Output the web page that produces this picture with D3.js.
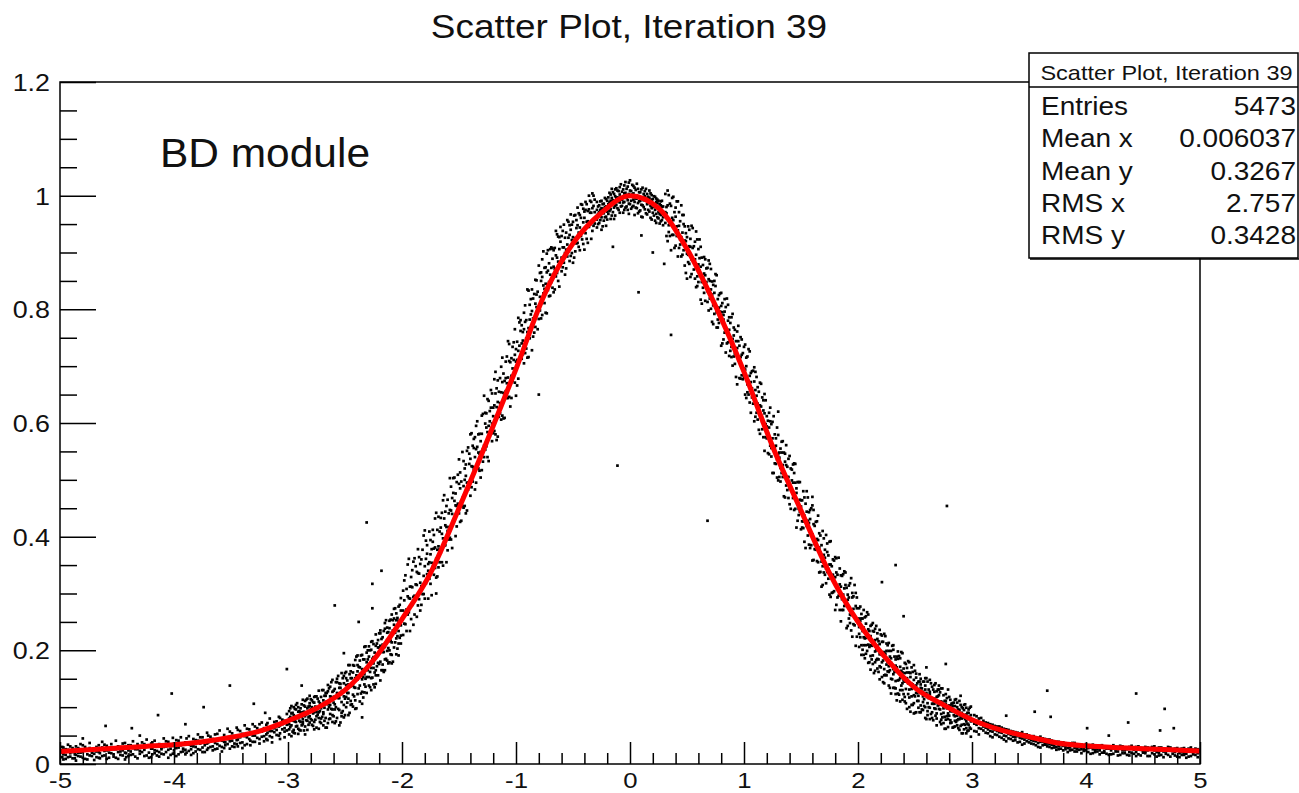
<!DOCTYPE html>
<html><head><meta charset="utf-8">
<script src="https://cdn.jsdelivr.net/npm/d3@7"></script>
<style>
html,body{margin:0;padding:0;background:#fff;}
svg{display:block;}
text{font-family:"Liberation Sans",Arial,Helvetica,sans-serif;fill:#111;}
</style></head>
<body>
<svg id="chart" width="1299" height="793"></svg>
<script>
// ---------------- DATA ----------------
const titleText = "Scatter Plot, Iteration 39";
const annotationText = "BD module";
const xTickValues = [-5,-4,-3,-2,-1,0,1,2,3,4,5];
const xTickLabels = ["-5","-4","-3","-2","-1","0","1","2","3","4","5"];
const yTickValues = [0,0.2,0.4,0.6,0.8,1,1.2];
const yTickLabels = ["0","0.2","0.4","0.6","0.8","1","1.2"];
const statsLabels = ["Entries","Mean x","Mean y","RMS x","RMS y"];
const statsValues = ["5473","0.006037","0.3267","2.757","0.3428"];

// fitted red curve
const curveX = [-5,-4.75,-4.5,-4.25,-4,-3.75,-3.5,-3.25,-3,-2.75,-2.5,-2.25,-2,-1.75,-1.5,-1.25,-1,-0.75,-0.5,-0.25,0,0.25,0.5,0.75,1,1.25,1.5,1.75,2,2.25,2.5,2.75,3,3.25,3.5,3.75,4,4.25,4.5,4.75,5];
const curveY = [0.022,0.025,0.028,0.031,0.034,0.039,0.047,0.058,0.076,0.098,0.130,0.183,0.255,0.336,0.450,0.570,0.695,0.826,0.916,0.970,1.000,0.978,0.906,0.806,0.690,0.559,0.446,0.336,0.250,0.185,0.134,0.104,0.078,0.060,0.048,0.037,0.032,0.029,0.027,0.025,0.023];

// scatter points: each row = [x, y1, y2, ...]
const tailLeft = [
[-4.98,.012,.021,.030],[-4.95,.016,.026,.009],[-4.91,.019,.013,.031],[-4.87,.024,.010,.017],
[-4.84,.014,.028,.020],[-4.80,.021,.011,.033],[-4.76,.017,.026,.008],[-4.72,.025,.014,.020],
[-4.68,.012,.030,.022],[-4.65,.019,.027,.010],[-4.61,.023,.015,.034],[-4.57,.011,.020,.028],
[-4.53,.026,.017,.013],[-4.49,.021,.031,.009],[-4.45,.015,.024,.036],[-4.42,.028,.012,.019],
[-4.38,.022,.033,.016],[-4.34,.013,.026,.030],[-4.30,.018,.029,.023],[-4.26,.025,.014,.035],
[-4.22,.020,.031,.011],[-4.19,.027,.017,.038],[-4.15,.023,.033,.015],[-4.11,.018,.029,.026],
[-4.07,.031,.021,.040],[-4.03,.016,.027,.034],[-4.00,.024,.036,.019],[-3.96,.029,.017,.041],
[-3.92,.022,.034,.027],[-3.89,.037,.020,.045],[-3.85,.026,.032,.016],[-3.81,.030,.042,.022],
[-3.77,.025,.036,.047],[-3.73,.021,.033,.040],[-3.70,.038,.028,.050],[-3.66,.024,.044,.031],
[-3.62,.035,.027,.053],[-3.58,.030,.041,.022],[-3.55,.046,.033,.038],[-3.51,.027,.040,.057],
[-3.47,.036,.049,.030],[-3.44,.043,.031,.060],[-3.40,.038,.053,.028],[-3.36,.047,.035,.062],
[-3.33,.041,.056,.033],[-3.29,.050,.039,.066],[-3.25,.044,.058,.036,.070],[-3.21,.049,.063,.040],
[-3.18,.055,.042,.072],[-3.14,.047,.066,.058,.038],[-3.10,.060,.051,.075],[-3.07,.054,.068,.044,.081],
[-3.03,.063,.057,.076,.047]
];
const tailLeft2 = [
[-4.97,.017,.029,.008],[-4.93,.025,.012,.034],[-4.89,.010,.021,.028],[-4.86,.031,.016,.006],
[-4.82,.020,.035,.013],[-4.78,.009,.024,.030],[-4.74,.028,.015,.037],[-4.70,.018,.007,.026],
[-4.66,.033,.021,.011],[-4.63,.014,.029,.039],[-4.59,.024,.009,.032],[-4.55,.035,.019,.027],
[-4.51,.011,.026,.041],[-4.47,.030,.016,.022],[-4.43,.020,.037,.008],[-4.40,.033,.024,.014],
[-4.36,.017,.040,.028],[-4.32,.026,.010,.035],[-4.28,.038,.021,.029],[-4.24,.015,.032,.043],
[-4.20,.027,.012,.036],[-4.17,.041,.024,.019],[-4.13,.021,.035,.013],[-4.09,.030,.045,.017],
[-4.05,.039,.025,.011],[-4.01,.018,.032,.046],[-3.98,.028,.042,.014],[-3.94,.047,.021,.033],
[-3.90,.025,.038,.017],[-3.87,.034,.049,.023],[-3.83,.019,.031,.044],[-3.79,.041,.026,.052],
[-3.75,.029,.047,.021],[-3.71,.036,.055,.025],[-3.68,.048,.030,.040],[-3.64,.026,.052,.037],
[-3.60,.043,.032,.059],[-3.56,.051,.028,.039],[-3.53,.035,.062,.044],[-3.49,.054,.031,.041],
[-3.45,.042,.064,.035],[-3.42,.058,.037,.047],[-3.38,.033,.049,.068],[-3.34,.061,.044,.052],
[-3.31,.039,.070,.050],[-3.27,.063,.046,.055],[-3.23,.048,.073,.057],[-3.19,.069,.052,.044],
[-3.16,.058,.080,.049],[-3.12,.074,.056,.063],[-3.08,.050,.083,.066],[-3.05,.078,.061,.070],
[-3.01,.059,.088,.069]
];
const midLeft = [
[-2.99,.070,.093,.052,.080,.061],[-2.97,.102,.077,.049,.089,.068],[-2.95,.086,.060,.100,.076,.055],
[-2.93,.096,.074,.084,.066,.104],[-2.91,.053,.092,.081,.062,.100],[-2.89,.074,.091,.059,.098,.086],
[-2.87,.070,.113,.079,.091,.074],[-2.85,.101,.052,.111,.084,.066],[-2.83,.098,.076,.115,.089,.060],
[-2.81,.107,.084,.073,.102,.120],[-2.79,.069,.095,.112,.077,.100],[-2.77,.061,.108,.091,.074,.118],
[-2.75,.084,.099,.064,.119,.092],[-2.73,.081,.110,.062,.129,.091],[-2.71,.080,.105,.118,.072,.098],
[-2.69,.130,.088,.068,.112,.091],[-2.67,.125,.081,.106,.064,.120],[-2.65,.096,.139,.072,.105,.128],
[-2.63,.088,.119,.080,.136,.104],[-2.61,.074,.127,.096,.148,.086],[-2.59,.119,.072,.132,.105,.096],
[-2.57,.150,.125,.081,.118,.144],[-2.55,.095,.134,.068,.142,.116],[-2.53,.090,.160,.109,.127,.084],
[-2.51,.142,.104,.155,.119,.082],[-2.49,.139,.162,.100,.118,.151],[-2.47,.086,.140,.115,.174,.125],
[-2.45,.111,.151,.104,.163,.137],[-2.43,.161,.101,.138,.174,.122],[-2.41,.151,.112,.183,.134,.097],
[-2.39,.174,.149,.123,.163,.191],[-2.37,.138,.110,.170,.156,.182],[-2.35,.127,.167,.149,.192,.106],
[-2.33,.184,.140,.158,.206,.126],[-2.31,.179,.153,.196,.125,.167],[-2.29,.207,.153,.138,.189,.174],
[-2.27,.130,.201,.169,.215,.151],[-2.25,.188,.140,.211,.169,.177],[-2.23,.208,.156,.228,.165,.141],
[-2.21,.205,.192,.218,.156,.178],[-2.19,.230,.147,.208,.180,.235],[-2.17,.197,.175,.223,.165,.210],
[-2.15,.238,.184,.206,.248,.165],[-2.13,.231,.199,.182,.240,.218],[-2.11,.216,.252,.200,.239,.179],
[-2.09,.263,.214,.177,.231,.192],[-2.07,.231,.205,.245,.273,.256],[-2.05,.193,.253,.239,.265,.221],
[-2.03,.252,.234,.277,.191,.212],[-2.01,.226,.244,.292,.212,.270]
];
const midLeftB = [
[-2.98,.083,.065,.098],[-2.96,.057,.077,.090],[-2.94,.097,.054,.075],[-2.92,.083,.107,.067],
[-2.90,.076,.093,.060],[-2.88,.105,.083,.068],[-2.86,.092,.059,.103],[-2.84,.077,.113,.087],
[-2.82,.101,.069,.082],[-2.80,.114,.096,.079],[-2.78,.089,.109,.067],[-2.76,.119,.078,.101],
[-2.74,.087,.097,.115],[-2.72,.107,.074,.093],[-2.70,.130,.083,.102],[-2.68,.076,.120,.099],
[-2.66,.125,.064,.110],[-2.64,.100,.133,.079],[-2.62,.118,.097,.144],[-2.60,.084,.129,.108],
[-2.58,.144,.075,.100],[-2.56,.116,.155,.097],[-2.54,.141,.073,.134],[-2.52,.093,.129,.151],
[-2.50,.160,.115,.086],[-2.48,.147,.108,.125],[-2.46,.090,.158,.174],[-2.44,.141,.105,.151],
[-2.42,.173,.135,.119],[-2.40,.156,.189,.098],[-2.38,.133,.171,.152],[-2.36,.191,.124,.159],
[-2.34,.153,.117,.184],[-2.32,.207,.150,.136],[-2.30,.184,.165,.200],[-2.28,.135,.200,.162],
[-2.26,.185,.152,.216],[-2.24,.161,.196,.135],[-2.22,.212,.190,.172],[-2.20,.205,.176,.230],
[-2.18,.165,.198,.220],[-2.16,.234,.162,.197],[-2.14,.212,.253,.185],[-2.12,.204,.232,.177],
[-2.10,.254,.217,.193],[-2.08,.235,.180,.253],[-2.06,.214,.274,.231],[-2.04,.257,.203,.225],
[-2.02,.280,.250,.222]
];
const flankLeft = [
[-1.99,.270,.227,.305],[-1.97,.267,.332,.246],[-1.95,.295,.263,.351],[-1.93,.312,.234,.291],
[-1.91,.341,.280,.311],[-1.89,.263,.362,.296],[-1.87,.338,.259,.315],[-1.85,.364,.290,.335],
[-1.83,.313,.280,.360],[-1.81,.331,.402,.299],[-1.79,.361,.318,.393],[-1.77,.352,.291,.340],
[-1.75,.394,.369,.317],[-1.73,.391,.347,.412],[-1.71,.345,.381,.432],[-1.69,.330,.377,.412],
[-1.67,.355,.409,.378],[-1.65,.442,.355,.405],[-1.63,.473,.384,.432],[-1.61,.417,.355,.454],
[-1.59,.417,.441,.395],[-1.57,.488,.446,.395],[-1.55,.429,.477,.503],[-1.53,.401,.455,.476],
[-1.51,.444,.509,.458],[-1.49,.426,.513,.485],[-1.47,.454,.549,.468],[-1.45,.520,.454,.500],
[-1.43,.551,.446,.495],[-1.41,.546,.528,.488],[-1.39,.582,.524,.487],[-1.37,.556,.519,.572],
[-1.35,.495,.554,.595],[-1.33,.520,.548,.580],[-1.31,.549,.504,.568],[-1.29,.616,.554,.532],
[-1.27,.599,.553,.618],[-1.25,.584,.642,.540],[-1.23,.603,.577,.621],[-1.21,.652,.568,.599],
[-1.19,.631,.677,.586],[-1.17,.570,.628,.661],[-1.15,.624,.655,.611],[-1.13,.699,.654,.606],
[-1.11,.653,.608,.687],[-1.09,.708,.656,.679],[-1.07,.644,.744,.680],[-1.05,.707,.629,.671],
[-1.03,.734,.696,.674],[-1.01,.765,.671,.720],[-0.99,.711,.743,.666],[-0.97,.777,.713,.736],
[-0.95,.713,.772,.740],[-0.93,.765,.705,.794],[-0.91,.749,.781,.731],[-0.89,.833,.767,.716],
[-0.87,.791,.818,.761],[-0.85,.752,.819,.784],[-0.83,.852,.810,.769],[-0.81,.798,.831,.765],
[-0.79,.864,.822,.798],[-0.77,.857,.790,.888],[-0.75,.836,.873,.811],[-0.73,.865,.793,.898],
[-0.71,.848,.881,.823],[-0.69,.909,.873,.848],[-0.67,.830,.904,.875],[-0.65,.938,.895,.858],
[-0.63,.884,.928,.850],[-0.61,.919,.878,.945],[-0.59,.909,.938,.874],[-0.57,.899,.926,.861],
[-0.55,.957,.914,.893],[-0.53,.931,.885,.948],[-0.51,.922,.949,.899],[-0.49,.965,.921,.891],
[-0.47,.943,.957,.916],[-0.45,.969,.910,.935],[-0.43,.961,.985,.929],[-0.41,.915,.953,.977],
[-0.39,.975,.934,.989],[-0.37,.955,.973,.917],[-0.35,.991,.949,.970],[-0.33,.978,1.004,.938],
[-0.31,.971,.993,.951]
];
const flankLeft2 = [
[-1.98,.288,.247,.323],[-1.96,.272,.308,.234],[-1.94,.361,.292,.267],[-1.92,.329,.255,.312],
[-1.90,.294,.356,.245],[-1.88,.316,.348,.290],[-1.86,.279,.336,.378],[-1.84,.319,.270,.352],
[-1.82,.377,.312,.299],[-1.80,.348,.411,.291],[-1.78,.370,.334,.385],[-1.76,.326,.355,.409],
[-1.74,.378,.297,.354],[-1.72,.403,.333,.379],[-1.70,.361,.442,.328],[-1.68,.435,.383,.346],
[-1.66,.416,.372,.433],[-1.64,.397,.464,.349],[-1.62,.420,.444,.385],[-1.60,.465,.376,.410],
[-1.58,.447,.503,.398],[-1.56,.440,.380,.468],[-1.54,.504,.431,.463],[-1.52,.418,.496,.454],
[-1.50,.493,.441,.536],[-1.48,.462,.497,.428],[-1.46,.533,.489,.451],[-1.44,.527,.441,.507],
[-1.42,.495,.557,.483],[-1.40,.537,.580,.472],[-1.38,.523,.497,.560],[-1.36,.575,.483,.540],
[-1.34,.558,.603,.524],[-1.32,.516,.581,.546],[-1.30,.613,.517,.581],[-1.28,.560,.648,.540],
[-1.26,.617,.559,.592],[-1.24,.595,.639,.533],[-1.22,.627,.585,.658],[-1.20,.582,.627,.612],
[-1.18,.690,.580,.652],[-1.16,.637,.576,.675],[-1.14,.635,.679,.617],[-1.12,.672,.613,.715],
[-1.10,.674,.651,.609],[-1.08,.717,.670,.644],[-1.06,.709,.739,.646],[-1.04,.683,.644,.714],
[-1.02,.742,.711,.683],[-1.00,.730,.648,.708],[-0.98,.785,.727,.678],[-0.96,.762,.719,.781],
[-0.94,.721,.760,.745],[-0.92,.807,.723,.778],[-0.90,.760,.835,.715],[-0.88,.808,.782,.749],
[-0.86,.797,.728,.835],[-0.84,.784,.827,.759],[-0.82,.851,.804,.826],[-0.80,.783,.877,.801],
[-0.78,.850,.784,.865],[-0.76,.842,.828,.902],[-0.74,.794,.874,.845],[-0.72,.904,.834,.868],
[-0.70,.861,.906,.824],[-0.68,.889,.838,.907],[-0.66,.871,.908,.835],[-0.64,.932,.891,.864],
[-0.62,.906,.840,.927],[-0.60,.929,.891,.867],[-0.58,.909,.949,.882],[-0.56,.935,.872,.905],
[-0.54,.954,.926,.902],[-0.52,.894,.940,.967],[-0.50,.927,.882,.954],[-0.48,.966,.925,.902],
[-0.46,.948,.917,.979],[-0.44,.904,.966,.944],[-0.42,.984,.939,.923],[-0.40,.961,.905,.972],
[-0.38,.985,.954,.924],[-0.36,.945,.976,1.000],[-0.34,.970,.924,.989],[-0.32,1.000,.947,.982]
];
const peak = [
[-0.29,.975,.944,.989,.958],[-0.27,.952,.983,.971],[-0.25,.991,.962,.978,.940],[-0.23,.956,.986,.969],
[-0.21,.994,.963,.981,.947],[-0.19,.968,.997,.985],[-0.17,.959,1.002,.976,.991],[-0.15,.992,.971,1.006],
[-0.13,.965,.999,.982,1.011],[-0.11,.997,.978,1.009],[-0.09,.970,1.015,.988,1.002],[-0.07,.982,1.007,.993],
[-0.05,1.018,.989,.975,1.004],[-0.03,.996,1.012,.981],[-0.01,.986,1.023,1.003,.968],[0.01,1.008,.991,.977],
[0.03,.993,1.017,.982,1.004],[0.05,.979,1.010,.995],[0.07,1.012,.987,.969,.998],[0.09,.991,1.006,.974],
[0.11,.983,1.014,.997,.962],[0.13,.999,.976,1.008],[0.15,.985,1.003,.967,.994],[0.17,.972,.996,1.009],
[0.19,.993,.978,.958,1.001],[0.21,.980,.999,.965],[0.23,.989,.968,.995,.952],[0.25,.971,.991,.960],
[0.27,.983,.955,.990,.966],[0.29,.962,.981,.948]
];
const peak2 = [
[-0.28,.981,.950,.968],[-0.26,.957,.990,.975],[-0.24,.985,.946,.977],[-0.22,.962,.996,.980],
[-0.20,.991,.958,.972],[-0.18,.973,1.005,.988],[-0.16,.996,.965,1.012],[-0.14,.979,1.003,.959],
[-0.12,1.013,.984,.996],[-0.10,.975,1.008,.990],[-0.08,1.020,.997,.981],[-0.06,.988,1.011,.970],
[-0.04,1.005,.979,1.024],[-0.02,.992,1.016,.975],[0.00,1.009,.985,1.027],[0.02,.980,1.002,1.019],
[0.04,1.014,.989,.966],[0.06,.995,1.021,.978],[0.08,1.006,.972,.990],[0.10,.984,1.011,.963],
[0.12,1.003,.980,.992],[0.14,.969,.996,1.012],[0.16,.998,.975,.987],[0.18,.982,1.004,.961],
[0.20,.994,.970,.983],[0.22,.975,.998,.956],[0.24,.987,.962,.993],[0.26,.968,.985,.951],
[0.28,.980,.957,.991]
];
const flankRight = [
[0.31,.952,1.003,.971],[0.33,.920,.983,1.009],[0.35,.952,.986,.929],[0.37,.961,.996,.931],
[0.39,.943,.971,.908],[0.41,.990,.946,.929],[0.43,.971,.908,.947],[0.45,.983,.893,.927],
[0.47,.950,.904,.966],[0.49,.864,.934,.920],[0.51,.883,.946,.896],[0.53,.924,.857,.910],
[0.55,.943,.887,.908],[0.57,.854,.919,.888],[0.59,.858,.923,.841],[0.61,.890,.868,.923],
[0.63,.848,.891,.810],[0.65,.863,.892,.829],[0.67,.848,.872,.838],[0.69,.886,.798,.853],
[0.71,.835,.801,.871],[0.73,.807,.843,.774],[0.75,.841,.807,.862],[0.77,.782,.818,.768],
[0.79,.828,.796,.786],[0.81,.811,.740,.795],[0.83,.818,.759,.796],[0.85,.740,.819,.763],
[0.87,.718,.786,.764],[0.89,.734,.786,.716],[0.91,.754,.717,.768],[0.93,.727,.681,.744],
[0.95,.771,.710,.744],[0.97,.678,.716,.751],[0.99,.677,.695,.723],[1.01,.650,.738,.694],
[1.03,.668,.717,.654],[1.05,.683,.726,.636],[1.07,.661,.691,.645],[1.09,.698,.603,.673],
[1.11,.648,.618,.681],[1.13,.620,.655,.588],[1.15,.629,.669,.613],[1.17,.622,.575,.640],
[1.19,.598,.575,.640],[1.21,.547,.604,.582],[1.23,.627,.560,.603],[1.25,.512,.573,.602],
[1.27,.529,.556,.580],[1.29,.536,.592,.504],[1.31,.548,.539,.505],[1.33,.567,.512,.548],
[1.35,.471,.548,.514],[1.37,.561,.490,.526],[1.39,.468,.537,.505],[1.41,.486,.520,.449],
[1.43,.495,.527,.468],[1.45,.495,.449,.528],[1.47,.463,.428,.496],[1.49,.465,.444,.496],
[1.51,.416,.464,.427],[1.53,.469,.437,.391],[1.55,.444,.480,.419],[1.57,.443,.386,.424],
[1.59,.450,.385,.403],[1.61,.422,.359,.447],[1.63,.394,.377,.426],[1.65,.355,.394,.437],
[1.67,.338,.372,.402],[1.69,.348,.410,.315],[1.71,.377,.363,.333],[1.73,.388,.338,.373],
[1.75,.298,.351,.391],[1.77,.327,.348,.301],[1.79,.358,.327,.304],[1.81,.362,.280,.337],
[1.83,.308,.363,.296],[1.85,.332,.251,.312],[1.87,.334,.271,.298],[1.89,.315,.281,.337],
[1.91,.243,.298,.289],[1.93,.248,.318,.263],[1.95,.293,.224,.301],[1.97,.260,.315,.244],
[1.99,.274,.224,.293]
];
const flankRight2 = [
[0.32,.980,.929,.969],[0.34,.948,1.001,.936],[0.36,.982,.953,.904],[0.38,.998,.931,.957],
[0.40,.912,.963,.979],[0.42,.939,.893,.990],[0.44,.914,.955,.923],[0.46,.966,.896,.935],
[0.48,.877,.921,.946],[0.50,.927,.898,.854],[0.52,.940,.911,.880],[0.54,.888,.947,.862],
[0.56,.911,.870,.887],[0.58,.937,.839,.896],[0.60,.848,.906,.879],[0.62,.875,.817,.910],
[0.64,.855,.878,.838],[0.66,.815,.888,.860],[0.68,.873,.832,.813],[0.70,.880,.819,.850],
[0.72,.778,.849,.826],[0.74,.829,.792,.850],[0.76,.795,.860,.768],[0.78,.825,.803,.776],
[0.80,.736,.806,.829],[0.82,.782,.747,.790],[0.84,.804,.763,.724],[0.86,.780,.808,.742],
[0.88,.727,.750,.776],[0.90,.792,.701,.748],[0.92,.722,.764,.704],[0.94,.732,.668,.761],
[0.96,.736,.708,.679],[0.98,.684,.747,.720],[1.00,.734,.680,.696],[1.02,.644,.700,.715],
[1.04,.674,.650,.730],[1.06,.688,.618,.672],[1.08,.651,.692,.634],[1.10,.690,.658,.611],
[1.12,.606,.663,.634],[1.14,.631,.581,.671],[1.16,.645,.602,.589],[1.18,.617,.651,.551],
[1.20,.573,.612,.594],[1.22,.618,.545,.592],[1.24,.556,.598,.541],[1.26,.612,.559,.512],
[1.28,.560,.528,.573],[1.30,.499,.579,.545],[1.32,.555,.521,.497],[1.34,.526,.568,.505],
[1.36,.469,.532,.546],[1.38,.523,.482,.505],[1.40,.542,.485,.457],[1.42,.481,.518,.499],
[1.44,.512,.447,.529],[1.46,.477,.416,.485],[1.48,.438,.496,.449],[1.50,.464,.413,.453],
[1.52,.427,.480,.415],[1.54,.458,.429,.380],[1.56,.469,.402,.428],[1.58,.380,.431,.447],
[1.60,.404,.358,.455],[1.62,.378,.419,.387],[1.64,.427,.357,.396],[1.66,.337,.381,.406],
[1.68,.385,.356,.312],[1.70,.397,.368,.337],[1.72,.344,.403,.318],[1.74,.367,.326,.343],
[1.76,.392,.294,.351],[1.78,.302,.360,.333],[1.80,.329,.271,.364],[1.82,.310,.333,.293],
[1.84,.271,.344,.316],[1.86,.331,.290,.271],[1.88,.339,.278,.309],[1.90,.239,.310,.287],
[1.92,.293,.256,.314],[1.94,.262,.327,.235],[1.96,.295,.273,.246],[1.98,.208,.278,.301]
];
const midRight = [
[2.01,.229,.256,.206,.274,.241],[2.03,.209,.256,.240,.192,.264],[2.05,.240,.209,.271,.223,.192],
[2.07,.247,.222,.194,.260,.209],[2.09,.226,.178,.237,.210,.263],[2.11,.190,.225,.166,.243,.209],
[2.13,.248,.176,.211,.234,.191],[2.15,.198,.238,.164,.218,.179],[2.17,.220,.185,.208,.168,.230],
[2.19,.193,.236,.172,.149,.211],[2.21,.215,.179,.153,.226,.192],[2.23,.156,.197,.167,.229,.142],
[2.25,.199,.175,.212,.156,.185],[2.27,.138,.199,.162,.213,.172],[2.29,.178,.124,.199,.150,.186],
[2.31,.134,.201,.158,.167,.209],[2.33,.184,.123,.173,.146,.133],[2.35,.198,.163,.124,.185,.147],
[2.37,.151,.171,.110,.186,.130],[2.39,.161,.130,.195,.142,.113],[2.41,.160,.110,.178,.145,.118],
[2.43,.161,.145,.097,.169,.151],[2.45,.117,.179,.131,.100,.161],[2.47,.132,.104,.170,.119,.141],
[2.49,.089,.148,.121,.174,.107],[2.51,.138,.091,.152,.125,.159],[2.53,.099,.127,.145,.111,.120],
[2.55,.150,.091,.134,.103,.140],[2.57,.109,.127,.095,.145,.119],[2.59,.151,.100,.081,.131,.138],
[2.61,.107,.086,.145,.118,.093],[2.63,.123,.099,.148,.079,.127],[2.65,.106,.136,.091,.114,.081],
[2.67,.127,.098,.139,.106,.115],[2.69,.068,.128,.089,.118,.080],[2.71,.131,.097,.104,.138,.121],
[2.73,.070,.110,.088,.078,.133],[2.75,.103,.072,.121,.090,.098],[2.77,.111,.062,.123,.078,.106],
[2.79,.079,.131,.089,.065,.085],[2.81,.102,.072,.113,.093,.077],[2.83,.102,.093,.064,.107,.096],
[2.85,.076,.113,.084,.066,.102],[2.87,.100,.085,.068,.108,.077],[2.89,.089,.060,.095,.079,.111],
[2.91,.069,.090,.054,.100,.080],[2.93,.104,.061,.082,.095,.070],[2.95,.075,.099,.054,.087,.063],
[2.97,.090,.069,.083,.059,.096],[2.99,.075,.101,.062,.048,.086]
];
const midRightB = [
[2.02,.252,.223,.277],[2.04,.201,.234,.256],[2.06,.258,.186,.221],[2.08,.226,.267,.199],
[2.10,.206,.234,.179],[2.12,.245,.208,.184],[2.14,.215,.160,.233],[2.16,.183,.243,.200],
[2.18,.216,.162,.184],[2.20,.228,.198,.170],[2.22,.182,.215,.144],[2.24,.225,.157,.194],
[2.26,.163,.180,.209],[2.28,.189,.134,.165],[2.30,.208,.149,.173],[2.32,.134,.189,.162],
[2.34,.189,.112,.170],[2.36,.148,.190,.122],[2.38,.164,.138,.197],[2.40,.123,.168,.147],
[2.42,.176,.107,.132],[2.44,.142,.181,.123],[2.46,.160,.092,.153],[2.48,.104,.140,.162],
[2.50,.164,.119,.090],[2.52,.142,.111,.125],[2.54,.091,.145,.158],[2.56,.125,.096,.133],
[2.58,.145,.114,.102],[2.60,.125,.151,.079],[2.62,.100,.131,.116],[2.64,.142,.088,.116],
[2.66,.106,.077,.131],[2.68,.142,.097,.085],[2.70,.119,.103,.131],[2.72,.074,.126,.096],
[2.74,.108,.082,.133],[2.76,.083,.111,.062],[2.78,.116,.098,.084],[2.80,.103,.085,.118],
[2.82,.073,.093,.106],[2.84,.108,.065,.086],[2.86,.090,.114,.074],[2.88,.079,.096,.063],
[2.90,.104,.082,.067],[2.92,.087,.054,.098],[2.94,.069,.105,.079],[2.96,.090,.058,.071],
[2.98,.099,.081,.064]
];
const tailRight = [
[3.02,.071,.058,.086],[3.06,.063,.080,.052],[3.10,.059,.076,.066],[3.14,.072,.054,.061],
[3.18,.057,.069,.047],[3.22,.051,.066,.058],[3.26,.064,.046,.055],[3.30,.049,.061,.040],
[3.34,.058,.044,.051],[3.38,.042,.056,.047],[3.42,.054,.039,.046],[3.46,.043,.052,.036],
[3.50,.038,.050,.044],[3.54,.049,.035,.041],[3.58,.037,.046,.030],[3.62,.045,.033,.039],
[3.66,.031,.043,.036],[3.70,.041,.028,.034],[3.74,.030,.039,.025],[3.78,.038,.027,.033],
[3.82,.026,.036,.030],[3.86,.035,.024,.029],[3.90,.028,.037,.022],[3.94,.034,.025,.030],
[3.98,.023,.031,.027],[4.02,.033,.021,.028],[4.06,.026,.034,.019],[4.10,.030,.022,.027],
[4.14,.020,.029,.033],[4.18,.027,.018,.031],[4.22,.031,.024,.017],[4.26,.022,.030,.026],
[4.30,.028,.016,.032],[4.34,.019,.027,.024],[4.38,.030,.021,.015],[4.42,.025,.029,.018],
[4.46,.017,.026,.031],[4.50,.028,.020,.023],[4.54,.014,.029,.024],[4.58,.026,.019,.030],
[4.62,.021,.027,.013],[4.66,.029,.016,.024],[4.70,.018,.026,.022],[4.74,.024,.013,.029],
[4.78,.015,.027,.021],[4.82,.026,.019,.012],[4.86,.020,.028,.016],[4.90,.013,.023,.027],
[4.94,.025,.017,.021],[4.98,.019,.026,.012]
];
const tailRight2 = [
[3.04,.069,.084,.057],[3.08,.081,.062,.070],[3.12,.055,.073,.064],[3.16,.070,.058,.049],
[3.20,.052,.067,.060],[3.24,.066,.048,.056],[3.28,.050,.062,.043],[3.32,.060,.045,.053],
[3.36,.041,.057,.048],[3.40,.055,.038,.049],[3.44,.045,.056,.034],[3.48,.052,.040,.046],
[3.52,.036,.048,.042],[3.56,.047,.033,.040],[3.60,.039,.048,.029],[3.64,.034,.044,.037],
[3.68,.043,.030,.035],[3.72,.029,.040,.033],[3.76,.039,.026,.031],[3.80,.032,.038,.024],
[3.84,.028,.036,.021],[3.88,.033,.025,.037],[3.92,.022,.031,.027],[3.96,.034,.026,.019],
[4.00,.024,.030,.035],[4.04,.029,.018,.033],[4.08,.021,.030,.025],[4.12,.032,.024,.017],
[4.16,.023,.031,.020],[4.20,.027,.016,.029],[4.24,.018,.028,.033],[4.28,.030,.022,.015],
[4.32,.024,.031,.019],[4.36,.016,.026,.029],[4.40,.027,.020,.032],[4.44,.021,.030,.014],
[4.48,.028,.015,.025],[4.52,.019,.030,.022],[4.56,.026,.014,.028],[4.60,.017,.024,.031],
[4.64,.029,.020,.015],[4.68,.022,.027,.012],[4.72,.016,.025,.030],[4.76,.026,.018,.023],
[4.80,.013,.024,.028],[4.84,.027,.016,.021],[4.88,.018,.025,.011],[4.92,.024,.014,.029],
[4.96,.016,.022,.027]
];
const outliers = [
[-2.31,.425],[-2.18,.34],[-2.26,.317],[-2.26,.274],[-2.59,.279],[-2.38,.25],[-2.51,.195],[-3.01,.167],
[-3.51,.138],[-4.02,.124],[-3.74,.10],[-4.14,.086],[-4.6,.067],[-4.37,.063],[-3.30,.106],[-2.88,.138],
[-2.35,.082],[-0.11,.525],[0.68,.428],[2.78,.454],[0.075,.83],[0.36,.755],[2.33,.35],[2.40,.26],
[2.21,.32],[2.77,.176],[3.66,.129],[4.44,.124],[4.69,.097],[4.37,.073],[4.77,.063],[4.65,.059],
[4.01,.063],[3.55,.092],[3.69,.083],[0.1,.93],[-0.15,.91],[0.3,.88],[0.2,.90],[-0.8,.65],
[-1.7,.30],[1.3,.62],[1.6,.47],[2.6,.17],[2.9,.12],[3.3,.085],[4.2,.05],[-4.8,.045],
[-4.3,.05],[-3.9,.07],[-3.2,.09]
];

// ---------------- DRAW ----------------
const svg = d3.select("#chart");
const W = 1299, H = 793;
const plot = {left: 60, right: 1200, top: 82, bottom: 764};
const SX = 1.12; // horizontal stretch of ROOT fonts in the picture

const x = d3.scaleLinear().domain([-5, 5]).range([plot.left, plot.right]);
const y = d3.scaleLinear().domain([0, 1.2]).range([plot.bottom, plot.top]);

svg.append("rect").attr("width", W).attr("height", H).attr("fill", "#fff");

// title
svg.append("g").attr("transform", `translate(629,38) scale(${SX},1)`)
  .append("text").attr("text-anchor", "middle").attr("font-size", 33).text(titleText);

// clip
svg.append("clipPath").attr("id", "clip").append("rect")
  .attr("x", plot.left).attr("y", plot.top)
  .attr("width", plot.right - plot.left).attr("height", plot.bottom - plot.top);

// points
const rows = [].concat(tailLeft, tailLeft2, midLeft, midLeftB, flankLeft, flankLeft2,
  peak, peak2, flankRight, flankRight2, midRight, midRightB, tailRight, tailRight2);
const pts = [];
rows.forEach(r => { for (let i = 1; i < r.length; i++) pts.push([r[0], r[i]]); });
outliers.forEach(p => pts.push(p));

const ps = 2.7;
const gPts = svg.append("g").attr("clip-path", "url(#clip)");
gPts.selectAll("rect").data(pts).join("rect")
  .attr("x", d => x(d[0]) - ps / 2).attr("y", d => y(d[1]) - ps / 2)
  .attr("width", ps).attr("height", ps).attr("fill", "#000");

// red curve
const curveData = curveX.map((v, i) => [v, curveY[i]]);
svg.append("path").datum(curveData)
  .attr("clip-path", "url(#clip)")
  .attr("fill", "none").attr("stroke", "#ff0000").attr("stroke-width", 5)
  .attr("stroke-linejoin", "round")
  .attr("d", d3.line().x(d => x(d[0])).y(d => y(d[1])).curve(d3.curveMonotoneX));

// axes: minor ticks
const xMinor = x.ticks(50).filter(v => Math.abs(v - Math.round(v)) > 1e-6);
svg.append("g").attr("transform", `translate(0,${plot.bottom})`)
  .call(d3.axisBottom(x).tickValues(xMinor).tickSize(-11).tickFormat(""))
  .call(g => g.select(".domain").remove())
  .selectAll("line").attr("stroke", "#000").attr("stroke-width", 1.5);
const yMinor = y.ticks(24).filter(v => Math.abs(v * 5 - Math.round(v * 5)) > 1e-6);
svg.append("g").attr("transform", `translate(${plot.left},0)`)
  .call(d3.axisLeft(y).tickValues(yMinor).tickSize(-17).tickFormat(""))
  .call(g => g.select(".domain").remove())
  .selectAll("line").attr("stroke", "#000").attr("stroke-width", 1.5);

// major ticks + labels
const gx = svg.append("g").attr("transform", `translate(0,${plot.bottom})`)
  .call(d3.axisBottom(x).tickValues(xTickValues).tickSize(-22)
    .tickFormat((d, i) => xTickLabels[i]));
gx.select(".domain").remove();
gx.selectAll("line").attr("stroke", "#000").attr("stroke-width", 1.5);
gx.selectAll("text").attr("y", 24).attr("dy", 0).attr("font-size", 23)
  .attr("fill", "#111").attr("font-family", "Liberation Sans, Arial, sans-serif")
  .attr("transform", `scale(${SX},1)`);

const gy = svg.append("g").attr("transform", `translate(${plot.left},0)`)
  .call(d3.axisLeft(y).tickValues(yTickValues).tickSize(-36)
    .tickFormat((d, i) => yTickLabels[i]));
gy.select(".domain").remove();
gy.selectAll("line").attr("stroke", "#000").attr("stroke-width", 1.5);
gy.selectAll("text").attr("x", -10 / SX).attr("dy", "0.36em").attr("font-size", 24)
  .attr("fill", "#111").attr("font-family", "Liberation Sans, Arial, sans-serif")
  .attr("transform", `scale(${SX},1)`);

// frame
svg.append("rect").attr("x", plot.left).attr("y", plot.top)
  .attr("width", plot.right - plot.left).attr("height", plot.bottom - plot.top)
  .attr("fill", "none").attr("stroke", "#000").attr("stroke-width", 1.5);

// annotation
svg.append("text").attr("x", 160).attr("y", 167)
  .attr("font-family", "Lato, 'Open Sans', sans-serif").attr("font-size", 41)
  .attr("textLength", 210).attr("lengthAdjust", "spacingAndGlyphs")
  .attr("fill", "#000").text(annotationText);

// stats box
const box = {x: 1029, y: 53, w: 269, h: 205, head: 34};
const gs = svg.append("g");
gs.append("rect").attr("x", box.x).attr("y", box.y).attr("width", box.w).attr("height", box.h)
  .attr("fill", "#fff").attr("stroke", "#000").attr("stroke-width", 1.5);
gs.append("line").attr("x1", box.x + 1).attr("x2", box.x + box.w + 1)
  .attr("y1", box.y + box.h + 1).attr("y2", box.y + box.h + 1)
  .attr("stroke", "#000").attr("stroke-width", 1.5);
gs.append("line").attr("x1", box.x).attr("x2", box.x + box.w)
  .attr("y1", box.y + box.head).attr("y2", box.y + box.head)
  .attr("stroke", "#000").attr("stroke-width", 1.5);
gs.append("g").attr("transform", `translate(${box.x + box.w / 2 + 3},${box.y + 27}) scale(${SX},1)`)
  .append("text").attr("text-anchor", "middle").attr("font-size", 21).text(titleText);
statsLabels.forEach((lab, i) => {
  const by = 115 + i * 32.3;
  gs.append("g").attr("transform", `translate(1041,${by}) scale(${SX},1)`)
    .append("text").attr("font-size", 25).text(lab);
  gs.append("g").attr("transform", `translate(1296,${by}) scale(${SX},1)`)
    .append("text").attr("text-anchor", "end").attr("font-size", 25).text(statsValues[i]);
});
</script>
</body></html>
